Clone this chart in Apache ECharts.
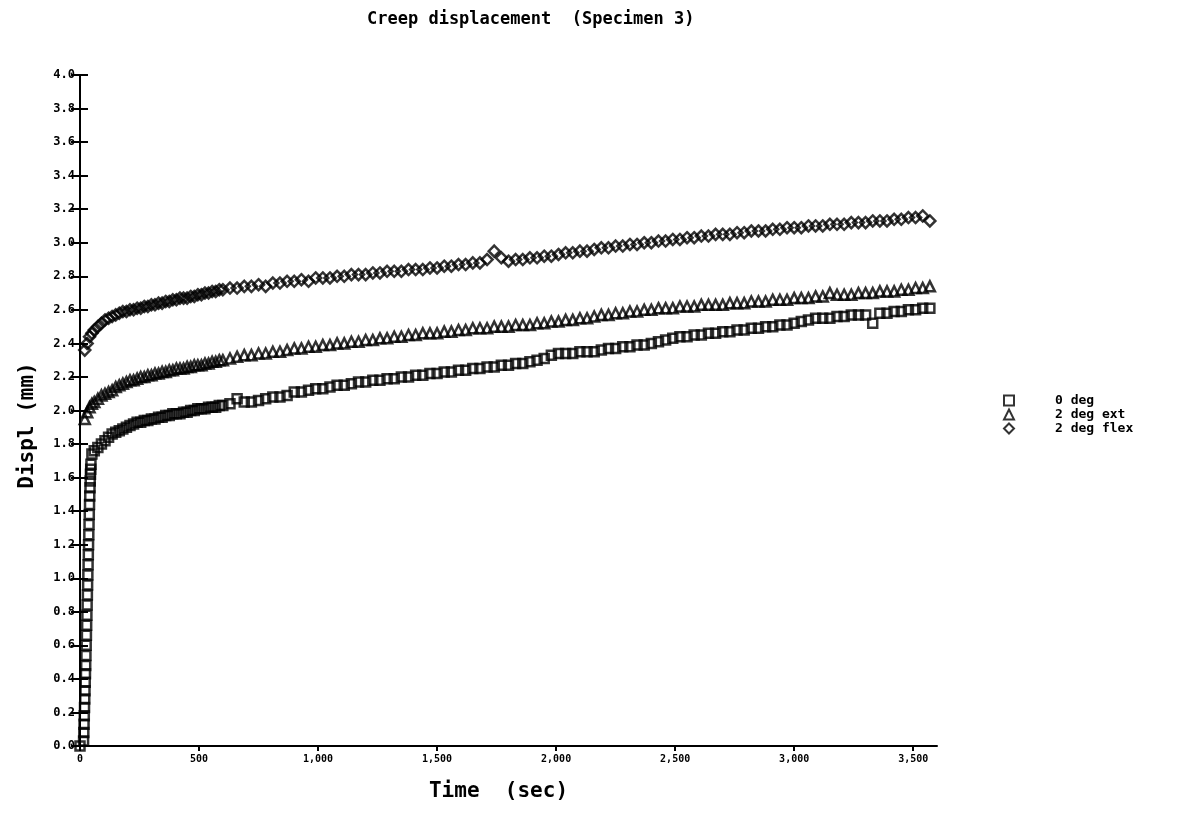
<!DOCTYPE html>
<html>
<head>
<meta charset="utf-8">
<script src="https://cdn.jsdelivr.net/npm/echarts@6/dist/echarts.min.js"></script>
<style>
  html, body { margin: 0; padding: 0; background: #fff; }
  #chart { width: 1194px; height: 833px; }
</style>
</head>
<body>
<div id="chart"></div>
<script>
// ---- data ----
const chartTitle = 'Creep displacement  (Specimen 3)';
const xAxisTitle = 'Time  (sec)';
const yAxisTitle = 'Displ (mm)';
const seriesNames = ['0 deg', '2 deg ext', '2 deg flex'];

const xTickValues = [0, 500, 1000, 1500, 2000, 2500, 3000, 3500];
const xTickLabels = ['0', '500', '1,000', '1,500', '2,000', '2,500', '3,000', '3,500'];

// initial loading ramp of the 0 deg specimen
const rampTimes0 = [0, 15, 16, 17, 18, 19, 20, 21, 22, 23, 24, 25, 26, 27, 28, 29, 30, 31, 32, 33,
  34, 35, 36, 37, 38, 39, 40, 41, 42, 43, 44, 45, 46];
const rampValues0 = [0, 0.03, 0.08, 0.13, 0.18, 0.23, 0.28, 0.33, 0.38, 0.43, 0.48, 0.54, 0.60, 0.66,
  0.72, 0.78, 0.84, 0.90, 0.96, 1.02, 1.08, 1.14, 1.20, 1.26, 1.32, 1.38, 1.44, 1.49, 1.54, 1.58,
  1.62, 1.65, 1.68];

// first points of the ext / flex specimens
const startTimes = [20, 30, 40];
const startExt = [1.95, 1.99, 2.02];
const startFlex = [2.36, 2.40, 2.44];

// common sampling times
const earlyTimes = [50, 60, 75, 90, 105, 120, 135, 150, 165, 180,
  195, 210, 225, 240, 255, 270, 285, 300, 315, 330,
  345, 360, 375, 390, 405, 420, 435, 450, 465, 480,
  495, 510, 525, 540, 555, 570, 585, 600];
const lateTimes = [630, 660, 690, 720, 750, 780, 810, 840, 870, 900,
  930, 960, 990, 1020, 1050, 1080, 1110, 1140, 1170, 1200,
  1230, 1260, 1290, 1320, 1350, 1380, 1410, 1440, 1470, 1500,
  1530, 1560, 1590, 1620, 1650, 1680, 1710, 1740, 1770, 1800,
  1830, 1860, 1890, 1920, 1950, 1980, 2010, 2040, 2070, 2100,
  2130, 2160, 2190, 2220, 2250, 2280, 2310, 2340, 2370, 2400,
  2430, 2460, 2490, 2520, 2550, 2580, 2610, 2640, 2670, 2700,
  2730, 2760, 2790, 2820, 2850, 2880, 2910, 2940, 2970, 3000,
  3030, 3060, 3090, 3120, 3150, 3180, 3210, 3240, 3270, 3300,
  3330, 3360, 3390, 3420, 3450, 3480, 3510, 3540, 3570];

const deg0Early = [1.74, 1.76, 1.78, 1.80, 1.82, 1.84, 1.86, 1.87, 1.88, 1.89,
  1.90, 1.91, 1.92, 1.93, 1.93, 1.94, 1.94, 1.95, 1.95, 1.96,
  1.96, 1.97, 1.97, 1.98, 1.98, 1.98, 1.99, 1.99, 2.00, 2.00,
  2.01, 2.01, 2.01, 2.02, 2.02, 2.02, 2.03, 2.03];
const deg0Late = [2.04, 2.07, 2.05, 2.05, 2.06, 2.07, 2.08, 2.08, 2.09, 2.11,
  2.11, 2.12, 2.13, 2.13, 2.14, 2.15, 2.15, 2.16, 2.17, 2.17,
  2.18, 2.18, 2.19, 2.19, 2.20, 2.20, 2.21, 2.21, 2.22, 2.22,
  2.23, 2.23, 2.24, 2.24, 2.25, 2.25, 2.26, 2.26, 2.27, 2.27,
  2.28, 2.28, 2.29, 2.30, 2.31, 2.33, 2.34, 2.34, 2.34, 2.35,
  2.35, 2.35, 2.36, 2.37, 2.37, 2.38, 2.38, 2.39, 2.39, 2.40,
  2.41, 2.42, 2.43, 2.44, 2.44, 2.45, 2.45, 2.46, 2.46, 2.47,
  2.47, 2.48, 2.48, 2.49, 2.49, 2.50, 2.50, 2.51, 2.51, 2.52,
  2.53, 2.54, 2.55, 2.55, 2.55, 2.56, 2.56, 2.57, 2.57, 2.57,
  2.52, 2.58, 2.58, 2.59, 2.59, 2.60, 2.60, 2.61, 2.61];

const extEarly = [2.04, 2.05, 2.07, 2.09, 2.10, 2.11, 2.12, 2.14, 2.15, 2.16,
  2.17, 2.18, 2.18, 2.19, 2.20, 2.20, 2.21, 2.21, 2.22, 2.22,
  2.23, 2.23, 2.24, 2.24, 2.25, 2.25, 2.25, 2.26, 2.26, 2.27,
  2.27, 2.27, 2.28, 2.28, 2.29, 2.29, 2.30, 2.30];
const extLate = [2.31, 2.32, 2.33, 2.33, 2.34, 2.34, 2.35, 2.35, 2.36, 2.37,
  2.37, 2.38, 2.38, 2.39, 2.39, 2.40, 2.40, 2.41, 2.41, 2.42,
  2.42, 2.43, 2.43, 2.44, 2.44, 2.45, 2.45, 2.46, 2.46, 2.46,
  2.47, 2.47, 2.48, 2.48, 2.49, 2.49, 2.49, 2.50, 2.50, 2.50,
  2.51, 2.51, 2.51, 2.52, 2.52, 2.53, 2.53, 2.54, 2.54, 2.55,
  2.55, 2.56, 2.57, 2.57, 2.58, 2.58, 2.59, 2.59, 2.60, 2.60,
  2.61, 2.61, 2.61, 2.62, 2.62, 2.62, 2.63, 2.63, 2.63, 2.63,
  2.64, 2.64, 2.64, 2.65, 2.65, 2.65, 2.66, 2.66, 2.66, 2.67,
  2.67, 2.67, 2.68, 2.68, 2.70, 2.69, 2.69, 2.69, 2.70, 2.70,
  2.70, 2.71, 2.71, 2.71, 2.72, 2.72, 2.73, 2.73, 2.74];

const flexEarly = [2.46, 2.48, 2.50, 2.52, 2.54, 2.55, 2.56, 2.57, 2.58, 2.59,
  2.59, 2.60, 2.60, 2.61, 2.61, 2.62, 2.62, 2.63, 2.63, 2.64,
  2.64, 2.65, 2.65, 2.66, 2.66, 2.67, 2.67, 2.67, 2.68, 2.68,
  2.69, 2.69, 2.70, 2.70, 2.71, 2.71, 2.72, 2.72];
const flexLate = [2.73, 2.73, 2.74, 2.74, 2.75, 2.74, 2.76, 2.76, 2.77, 2.77,
  2.78, 2.77, 2.79, 2.79, 2.79, 2.80, 2.80, 2.81, 2.81, 2.81,
  2.82, 2.82, 2.83, 2.83, 2.83, 2.84, 2.84, 2.84, 2.85, 2.85,
  2.86, 2.86, 2.87, 2.87, 2.88, 2.88, 2.90, 2.95, 2.91, 2.89,
  2.90, 2.90, 2.91, 2.91, 2.92, 2.92, 2.93, 2.94, 2.94, 2.95,
  2.95, 2.96, 2.97, 2.97, 2.98, 2.98, 2.99, 2.99, 3.00, 3.00,
  3.01, 3.01, 3.02, 3.02, 3.03, 3.03, 3.04, 3.04, 3.05, 3.05,
  3.05, 3.06, 3.06, 3.07, 3.07, 3.07, 3.08, 3.08, 3.09, 3.09,
  3.09, 3.10, 3.10, 3.10, 3.11, 3.11, 3.11, 3.12, 3.12, 3.12,
  3.13, 3.13, 3.13, 3.14, 3.14, 3.15, 3.15, 3.16, 3.13];

// ---- build ----
function pairs(ts, vs) { return ts.map((t, i) => [t, vs[i]]); }
const mainTimes = earlyTimes.concat(lateTimes);
const data0 = pairs(rampTimes0, rampValues0).concat(pairs(mainTimes, deg0Early.concat(deg0Late)));
const dataExt = pairs(startTimes, startExt).concat(pairs(mainTimes, extEarly.concat(extLate)));
const dataFlex = pairs(startTimes, startFlex).concat(pairs(mainTimes, flexEarly.concat(flexLate)));

const MONO = '"DejaVu Sans Mono", "Liberation Mono", monospace';

function mk(name, data, symbol, size) {
  return {
    name: name, type: 'scatter', data: data, symbol: symbol, symbolSize: size,
    itemStyle: { color: 'rgba(255,255,255,0)', borderColor: '#000', borderWidth: 2.5 },
    emphasis: { disabled: true }, silent: true
  };
}

const chart = echarts.init(document.getElementById('chart'), null, { renderer: 'canvas' });
chart.setOption({
  animation: false,
  backgroundColor: '#fff',
  title: {
    text: chartTitle, left: 362, top: 6,
    textStyle: { fontFamily: MONO, fontSize: 17, fontWeight: 'bold', color: '#000' }
  },
  legend: {
    orient: 'vertical', left: 998, top: 389, itemWidth: 10, itemHeight: 10, itemGap: 1,
    data: seriesNames,
    textStyle: { fontFamily: MONO, fontSize: 13, lineHeight: 13, fontWeight: 'bold', color: '#000', padding: [0, 0, 0, 36] }
  },
  grid: { left: 80, right: 257, top: 75, bottom: 87 },
  xAxis: {
    type: 'value', min: 0, max: 3600, interval: 500,
    name: xAxisTitle, nameLocation: 'middle', nameGap: 35,
    nameTextStyle: { fontFamily: MONO, fontSize: 21, fontWeight: 'bold', color: '#000', padding: [0, 20, 0, 0] },
    axisLine: { show: true, lineStyle: { color: '#000', width: 2 } },
    axisTick: { show: true, length: 5, customValues: xTickValues, lineStyle: { color: '#000', width: 2 } },
    axisLabel: {
      customValues: xTickValues, margin: 8,
      formatter: v => xTickLabels[xTickValues.indexOf(v)],
      fontFamily: MONO, fontSize: 10, fontWeight: 'bold', color: '#000'
    },
    splitLine: { show: false }
  },
  yAxis: [{
    type: 'value', min: 0, max: 4, interval: 0.2,
    name: yAxisTitle, nameLocation: 'middle', nameGap: 42, nameRotate: 90,
    nameTextStyle: { fontFamily: MONO, fontSize: 21, fontWeight: 'bold', color: '#000', padding: [0, 30, 0, 0] },
    axisLine: { show: true, lineStyle: { color: '#000', width: 2 } },
    axisTick: { show: true, length: 9, lineStyle: { color: '#000', width: 2 } },
    axisLabel: {
      margin: 5, formatter: v => v.toFixed(1),
      fontFamily: MONO, fontSize: 12, fontWeight: 'bold', color: '#000'
    },
    splitLine: { show: false }
  }, {
    type: 'value', min: 0, max: 4, interval: 0.2, position: 'left', offset: 0,
    axisLine: { show: false },
    axisTick: { show: true, inside: true, length: 8, lineStyle: { color: '#000', width: 2 } },
    axisLabel: { show: false },
    splitLine: { show: false }
  }],
  series: [
    mk(seriesNames[0], data0, 'rect', 9),
    mk(seriesNames[1], dataExt, 'triangle', 10),
    mk(seriesNames[2], dataFlex, 'diamond', 11)
  ]
});
</script>
</body>
</html>
